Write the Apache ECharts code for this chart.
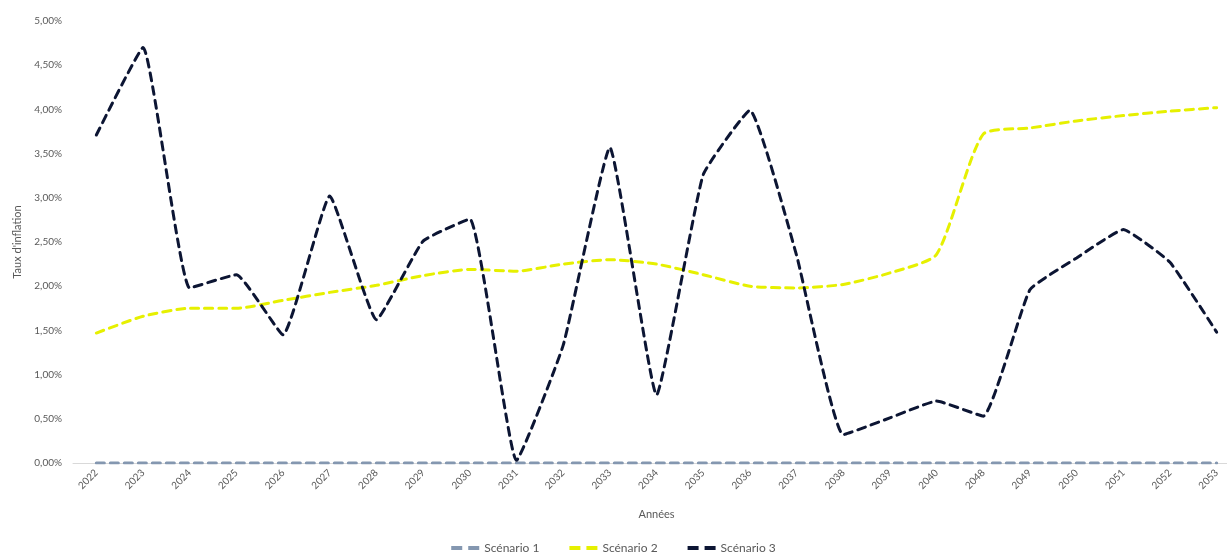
<!DOCTYPE html>
<html>
<head>
<meta charset="utf-8">
<script src="https://cdn.jsdelivr.net/npm/echarts@6/dist/echarts.min.js"></script>
<style>
  html, body { margin: 0; padding: 0; background: #ffffff; }
  #chart { width: 1227px; height: 556px; }
</style>
</head>
<body>
<div id="chart"></div>
<script>
// Années
const years = ['2022','2023','2024','2025','2026','2027','2028','2029','2030','2031','2032','2033','2034','2035','2036','2037','2038','2039','2040','2048','2049','2050','2051','2052','2053'];

// Taux d'inflation (%) par scénario
const scenario1 = [0,0,0,0,0,0,0,0,0,0,0,0,0,0,0,0,0,0,0,0,0,0,0,0,0];
const scenario2 = [1.47,1.66,1.75,1.75,1.84,1.93,2.01,2.12,2.19,2.17,2.25,2.30,2.25,2.13,2.00,1.98,2.02,2.15,2.36,3.72,3.79,3.87,3.93,3.98,4.02];
const scenario3 = [3.71,4.70,1.98,2.13,1.45,3.02,1.62,2.51,2.76,0.03,1.33,3.57,0.77,3.26,3.99,2.35,0.32,0.51,0.70,0.53,1.96,2.32,2.64,2.27,1.48];

const seriesNames = ['Scénario 1', 'Scénario 2', 'Scénario 3'];
const seriesColors = ['#8497b0', '#e6f000', '#0c1533'];

// two short dashes, used as the legend marker
const dashIcon = 'path://M0,0h11v4h-11z M17,0h11v4h-11z';

const font = 'Lato, "Open Sans", sans-serif';
const chart = echarts.init(document.getElementById('chart'));

function lineSeries(name, data, color, smooth) {
  return {
    name: name,
    type: 'line',
    data: data,
    symbol: 'none',
    smooth: smooth,
    lineStyle: { color: color, width: 3, type: [8, 6], cap: 'round' },
    itemStyle: { color: color }
  };
}

chart.setOption({
  animation: false,
  backgroundColor: '#ffffff',
  textStyle: { fontFamily: font },
  // the plot runs a little past the right edge of the canvas
  grid: { left: 73, width: 1167, top: 21, bottom: 93, outerBoundsMode: 'none', containLabel: false },
  legend: {
    bottom: -3,
    left: 'center',
    icon: dashIcon,
    itemWidth: 28,
    itemHeight: 4,
    itemGap: 30,
    textStyle: { color: '#595959', fontSize: 12, fontFamily: font },
    data: seriesNames
  },
  xAxis: {
    type: 'category',
    data: years,
    boundaryGap: true,
    name: 'Années',
    nameLocation: 'middle',
    nameGap: 46,
    nameTextStyle: { color: '#595959', fontSize: 11 },
    axisLine: { lineStyle: { color: '#d9d9d9', width: 1 } },
    axisTick: { show: false },
    axisLabel: { color: '#595959', fontSize: 10, rotate: 45, margin: 8, interval: 0 }
  },
  yAxis: {
    type: 'value',
    min: 0,
    max: 5,
    interval: 0.5,
    name: "Taux d'inflation",
    nameLocation: 'middle',
    nameRotate: 90,
    nameGap: 46,
    nameTextStyle: { color: '#595959', fontSize: 11 },
    axisLine: { show: false },
    axisTick: { show: false },
    splitLine: { show: false },
    axisLabel: {
      color: '#595959',
      fontSize: 10,
      margin: 11,
      formatter: v => v.toFixed(2).replace('.', ',') + '%'
    }
  },
  series: [
    lineSeries(seriesNames[0], scenario1, seriesColors[0], false),
    lineSeries(seriesNames[1], scenario2, seriesColors[1], 0.2),
    lineSeries(seriesNames[2], scenario3, seriesColors[2], 0.12)
  ]
});
</script>
</body>
</html>
